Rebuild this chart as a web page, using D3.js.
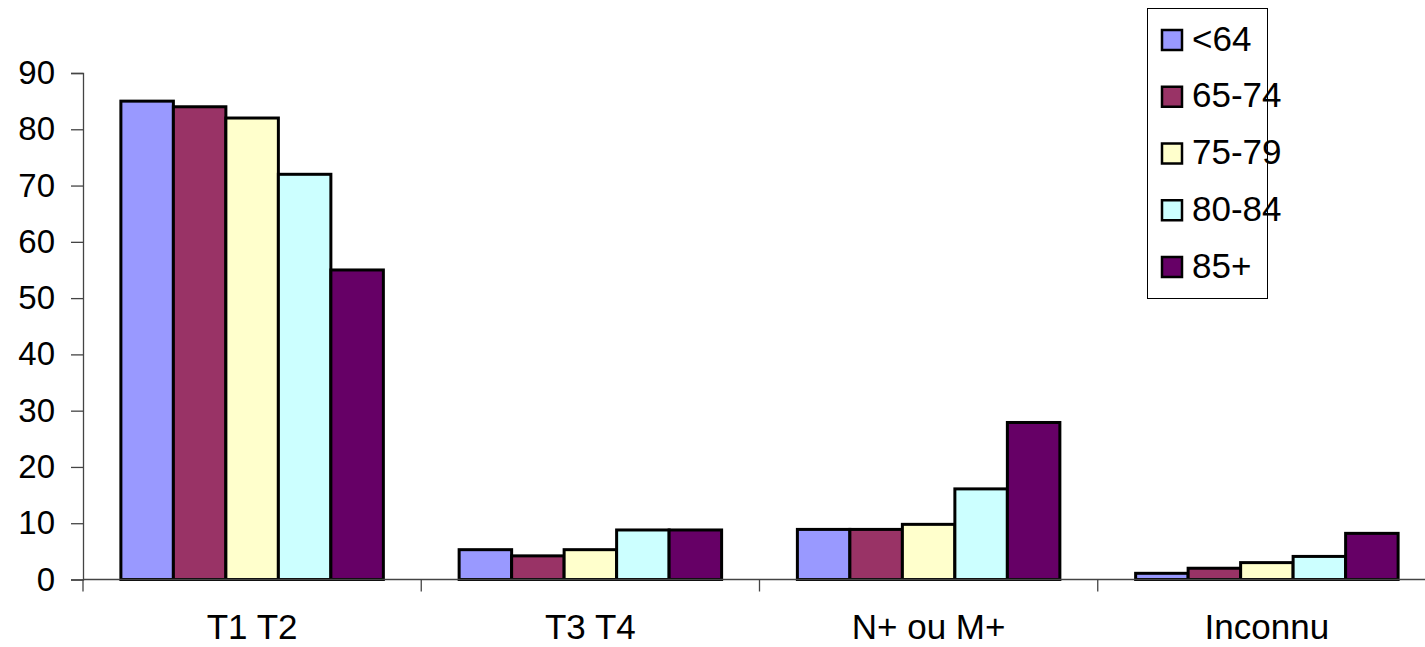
<!DOCTYPE html>
<html>
<head>
<meta charset="utf-8">
<script src="https://cdn.jsdelivr.net/npm/d3@7"></script>
<style>
  html, body { margin: 0; padding: 0; background: #fff; }
  svg { display: block; font-family: "Liberation Sans", Arial, sans-serif; }
</style>
</head>
<body>
<svg id="chart" width="1425" height="647"></svg>
<script>
// Stage groups on the x axis
const categories = ["T1 T2", "T3 T4", "N+ ou M+", "Inconnu"];
// Age bands (series)
const series = ["<64", "65-74", "75-79", "80-84", "85+"];
const colors = ["#9999FF", "#993366", "#FFFFCC", "#CCFFFF", "#660066"];
// Percentages per age band, one entry per category
const valuesLt64  = [85, 5.3, 8.9, 1.1];
const values65_74 = [84, 4.2, 8.9, 2.0];
const values75_79 = [82, 5.3, 9.8, 3.0];
const values80_84 = [72, 8.8, 16.1, 4.1];
const values85p   = [55, 8.8, 27.9, 8.2];
const yTicks = [0, 10, 20, 30, 40, 50, 60, 70, 80, 90];

const seriesValues = [valuesLt64, values65_74, values75_79, values80_84, values85p];

const tickFont = 33, labelFont = 35;
const svg = d3.select("#chart");
const plotLeft = 83, plotRight = 1436, plotTop = 73, plotBottom = 579.5;

const x0 = d3.scaleBand().domain(categories).range([plotLeft, plotRight]).paddingInner(0).paddingOuter(0);
const innerPad = 0.112;
const x1 = d3.scaleBand().domain(series)
  .range([x0.bandwidth() * innerPad, x0.bandwidth() * (1 - innerPad)]).padding(0);
const y = d3.scaleLinear().domain([0, 90]).range([plotBottom, plotTop]);

// Bars
const groups = svg.append("g").selectAll("g")
  .data(categories)
  .join("g")
  .attr("transform", c => `translate(${x0(c)},0)`);

groups.selectAll("rect")
  .data((c, ci) => series.map((s, si) => ({ s, si, v: seriesValues[si][ci] })))
  .join("rect")
  .attr("x", d => x1(d.s))
  .attr("y", d => y(d.v))
  .attr("width", x1.bandwidth())
  .attr("height", d => plotBottom - y(d.v))
  .attr("fill", d => colors[d.si])
  .attr("stroke", "#000")
  .attr("stroke-width", 3);

// Y axis
const yAxis = d3.axisLeft(y).tickValues(yTicks).tickSize(12).tickPadding(16);
const gy = svg.append("g").attr("transform", `translate(${plotLeft},0)`).call(yAxis);
gy.select(".domain").attr("stroke", "#444").attr("stroke-width", 1.3);
gy.selectAll(".tick line").attr("stroke", "#444").attr("stroke-width", 1.3);
gy.selectAll(".tick text")
  .attr("font-size", tickFont).attr("fill", "#000")
  .attr("font-family", "'Liberation Sans', Arial, sans-serif")
  .attr("dy", "0.32em");

// X axis with separators between categories
svg.append("line")
  .attr("x1", plotLeft).attr("x2", plotRight)
  .attr("y1", plotBottom).attr("y2", plotBottom)
  .attr("stroke", "#444").attr("stroke-width", 1.3);

const seps = categories.map(c => x0(c)).concat([plotRight]);
svg.append("g").selectAll("line")
  .data(seps)
  .join("line")
  .attr("x1", d => d).attr("x2", d => d)
  .attr("y1", plotBottom).attr("y2", plotBottom + 12)
  .attr("stroke", "#444").attr("stroke-width", 1.3);

svg.append("g").selectAll("text")
  .data(categories)
  .join("text")
  .attr("x", c => x0(c) + x0.bandwidth() / 2)
  .attr("y", 639)
  .attr("text-anchor", "middle")
  .attr("font-size", labelFont)
  .attr("fill", "#000")
  .text(c => c);

// Legend
const lg = svg.append("g");
lg.append("rect")
  .attr("x", 1147.5).attr("y", 8.5).attr("width", 120).attr("height", 290)
  .attr("fill", "#fff").attr("stroke", "#000").attr("stroke-width", 1);

const rowY = d3.scalePoint().domain(series).range([40, 267]);
const items = lg.selectAll("g.item").data(series).join("g").attr("class", "item");
items.append("rect")
  .attr("x", 1162).attr("y", s => rowY(s) - 10)
  .attr("width", 20).attr("height", 20)
  .attr("fill", (s, i) => colors[i])
  .attr("stroke", "#000").attr("stroke-width", 2.5);
items.append("text")
  .attr("x", 1192).attr("y", s => rowY(s))
  .attr("dy", "0.3em")
  .attr("font-size", labelFont)
  .attr("fill", "#000")
  .text(s => s);
</script>
</body>
</html>
